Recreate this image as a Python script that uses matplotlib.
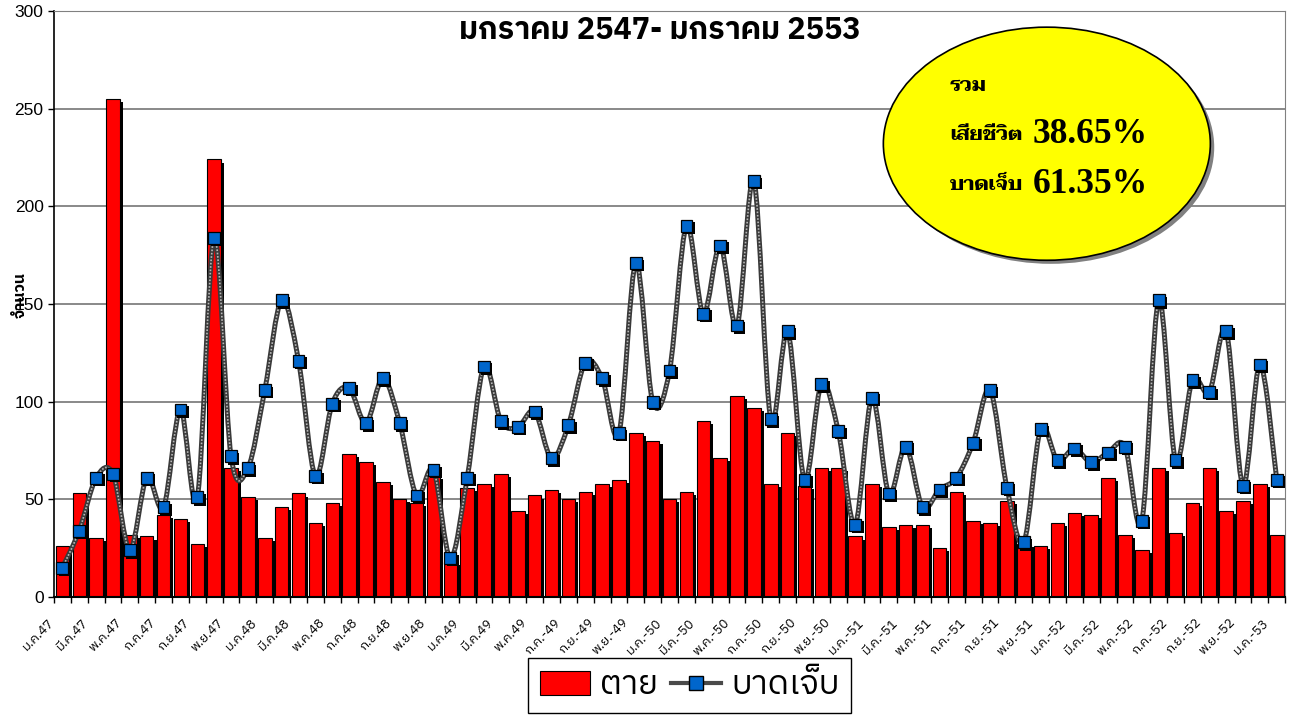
import numpy as np
import matplotlib
matplotlib.use("Agg")
import matplotlib.pyplot as plt
import matplotlib.patheffects as pe
import matplotlib.transforms as mtransforms
from matplotlib import font_manager
from matplotlib.ft2font import FT2Font
from matplotlib.patches import Ellipse, PathPatch, Patch
from matplotlib.path import Path
from matplotlib.lines import Line2D

# ---------------- data (ม.ค.47 - ม.ค.53, รายเดือน) ----------------
dead = [26, 53, 30, 255, 32, 31, 42, 40, 27, 224, 66, 51, 30, 46, 53, 38, 48, 73, 69, 59,
        50, 48, 62, 18, 56, 58, 63, 44, 52, 55, 50, 54, 58, 60, 84, 80, 50, 54, 90, 71,
        103, 97, 58, 84, 57, 66, 66, 31, 58, 36, 37, 37, 25, 54, 39, 38, 49, 27, 26, 38,
        43, 42, 61, 32, 24, 66, 33, 48, 66, 44, 49, 58, 32]
injured = [15, 34, 61, 63, 24, 61, 46, 96, 51, 184, 72, 66, 106, 152, 121, 62, 99, 107, 89, 112,
           89, 52, 65, 20, 61, 118, 90, 87, 95, 71, 88, 120, 112, 84, 171, 100, 116, 190, 145, 180,
           139, 213, 91, 136, 60, 109, 85, 37, 102, 53, 77, 46, 55, 61, 79, 106, 56, 28, 86, 70,
           76, 69, 74, 77, 39, 152, 70, 111, 105, 136, 57, 119, 60]
tick_labels = ['ม.ค.47', 'มี.ค.47', 'พ.ค.47', 'ก.ค.47', 'ก.ย.47', 'พ.ย.47',
               'ม.ค.48', 'มี.ค.48', 'พ.ค.48', 'ก.ค.48', 'ก.ย.48', 'พ.ย.48',
               'ม.ค.49', 'มี.ค.49', 'พ.ค.49', 'ก.ค.-49', 'ก.ย.-49', 'พ.ย.-49',
               'ม.ค.-50', 'มี.ค.-50', 'พ.ค.-50', 'ก.ค.-50', 'ก.ย.-50', 'พ.ย.-50',
               'ม.ค.-51', 'มี.ค.-51', 'พ.ค.-51', 'ก.ค.-51', 'ก.ย.-51', 'พ.ย.-51',
               'ม.ค.-52', 'มี.ค.-52', 'พ.ค.-52', 'ก.ค.-52', 'ก.ย.-52', 'พ.ย.-52',
               'ม.ค.-53']
share_dead = 38.65
share_injured = 61.35


# ---------------- หาฟอนต์ที่มีอักษรไทย ----------------
def thai_fonts():
    out = {}
    for f in font_manager.fontManager.ttflist:
        try:
            cmap = FT2Font(f.fname).get_charmap()
        except Exception:
            continue
        if 0x0E01 in cmap and 0x0E32 in cmap:
            out.setdefault(f.name, set()).add(f.weight)
    return out


thai_all = thai_fonts()


def pick(prefs, need_bold=True):
    for n in prefs:
        if n in thai_all:
            w = [int(v) if str(v).isdigit() else 400 for v in thai_all[n]]
            if not need_bold or max(w) >= 600:
                return n
    return sorted(thai_all)[0] if thai_all else 'DejaVu Sans'


thai_sans = pick(['IBM Plex Sans Thai', 'Noto Sans Thai', 'Sarabun', 'Anuphan'])
thai_serif = pick(['Taviraj', 'Noto Serif Thai', 'Trirong', 'Sarabun'])

plt.rcParams['font.family'] = [thai_sans, 'DejaVu Sans']

x = np.arange(len(dead))

fig = plt.figure(figsize=(12.94, 7.15), dpi=100)
ax = fig.add_axes([0.0417, 0.165, 0.9515, 0.8196])

# แท่ง "ตาย" พร้อมเงาดำ
ax.bar(x, dead, width=0.8, color='#ff0000', edgecolor='black', linewidth=0.8, zorder=2,
       path_effects=[pe.SimplePatchShadow(offset=(2.2, -2.2), shadow_rgbFace='black', alpha=1.0),
                     pe.Normal()])

# เส้น "บาดเจ็บ" แบบเส้นโค้ง (Bezier ผ่านทุกจุด)
pts = np.column_stack([x, injured]).astype(float)
verts = [pts[0]]
codes = [Path.MOVETO]
for i in range(len(pts) - 1):
    p0 = pts[max(i - 1, 0)]
    p1 = pts[i]
    p2 = pts[i + 1]
    p3 = pts[min(i + 2, len(pts) - 1)]
    verts += [p1 + (p2 - p0) / 6.0, p2 - (p3 - p1) / 6.0, p2]
    codes += [Path.CURVE4] * 3
curve = Path(verts, codes)
ax.add_patch(PathPatch(curve, fill=False, edgecolor='#3a3a3a', linewidth=3.6, zorder=3))
ax.add_patch(PathPatch(curve, fill=False, edgecolor='#b8b8b8', linewidth=1.2,
                       linestyle=(0, (1, 1)), zorder=3.1))
ax.plot(x, injured, linestyle='none', marker='s', markersize=8.5, markerfacecolor='#0066cc',
        markeredgecolor='black', markeredgewidth=0.9, zorder=4,
        path_effects=[pe.SimplePatchShadow(offset=(1.8, -1.8), shadow_rgbFace='black', alpha=1.0),
                      pe.Normal()])

# แกน
ax.set_xlim(-0.5, len(dead) - 0.5)
ax.set_ylim(0, 300)
ax.set_yticks(np.arange(0, 301, 50))
ax.yaxis.grid(True, color='#808080', linewidth=1.3)
ax.set_axisbelow(True)
ax.tick_params(axis='y', labelsize=12.5, length=4, width=1)
for lab in ax.get_yticklabels():
    lab.set_family(['Liberation Sans', 'DejaVu Sans'])

ax.set_xticks(np.arange(0, len(dead), 2))
ax.set_xticklabels(tick_labels, rotation=45, ha='right', va='center', rotation_mode='anchor',
                   fontsize=9.5)
ax.set_xticks(np.arange(-0.5, len(dead), 1), minor=True)
ax.tick_params(axis='x', which='major', length=0, pad=17)
ax.tick_params(axis='x', which='minor', length=4, width=1)
shift = mtransforms.ScaledTranslation(-0.10, 0, fig.dpi_scale_trans)
for lab in ax.get_xticklabels():
    lab.set_transform(lab.get_transform() + shift)

ax.spines['top'].set_color('#808080')
ax.spines['right'].set_color('#808080')
ax.spines['left'].set_linewidth(1.2)
ax.spines['bottom'].set_linewidth(1.5)

fig.text(0.016, 0.587, 'จำนวน', rotation=90, ha='center', va='center', fontsize=11.5,
         fontweight='bold')

# หัวเรื่อง
fig.text(0.510, 0.958, 'มกราคม 2547- มกราคม 2553', ha='center', va='center',
         fontsize=22, fontweight='bold')

# วงรีสรุป
fig.add_artist(Ellipse((0.812, 0.794), 0.2527, 0.326, transform=fig.transFigure,
                       facecolor='#808080', edgecolor='none', zorder=5))
fig.add_artist(Ellipse((0.809, 0.799), 0.2527, 0.326, transform=fig.transFigure,
                       facecolor='#ffff00', edgecolor='black', linewidth=1.2, zorder=6))
serif_fam = [thai_serif, 'DejaVu Serif']
fig.text(0.734, 0.881, 'รวม', ha='left', va='center', fontsize=14.5, fontweight='bold',
         family=serif_fam, zorder=7)
fig.text(0.734, 0.812, 'เสียชีวิต', ha='left', va='center', fontsize=14.5, fontweight='bold',
         family=serif_fam, zorder=7)
fig.text(0.798, 0.812, f'{share_dead:.2f}%', ha='left', va='center', fontsize=25.5,
         fontweight='bold', family='Liberation Serif', zorder=7)
fig.text(0.734, 0.742, 'บาดเจ็บ', ha='left', va='center', fontsize=14.5, fontweight='bold',
         family=serif_fam, zorder=7)
fig.text(0.798, 0.742, f'{share_injured:.2f}%', ha='left', va='center', fontsize=25.5,
         fontweight='bold', family='Liberation Serif', zorder=7)

# คำอธิบายสัญลักษณ์
handles = [Patch(facecolor='#ff0000', edgecolor='black', linewidth=0.8),
           Line2D([0], [0], color='#4a4a4a', linewidth=3, marker='s', markersize=10,
                  markerfacecolor='#0066cc', markeredgecolor='black')]
leg = fig.legend(handles, ['ตาย', 'บาดเจ็บ'], loc='upper left', bbox_to_anchor=(0.408, 0.080),
                 ncol=2, fontsize=24, frameon=True, fancybox=False, framealpha=1,
                 edgecolor='black', handlelength=1.5, handleheight=0.75, handletextpad=0.3,
                 columnspacing=0.4, borderpad=0.35, borderaxespad=0)
leg.get_frame().set_linewidth(1.0)

fig.savefig('out.png', dpi=100)
